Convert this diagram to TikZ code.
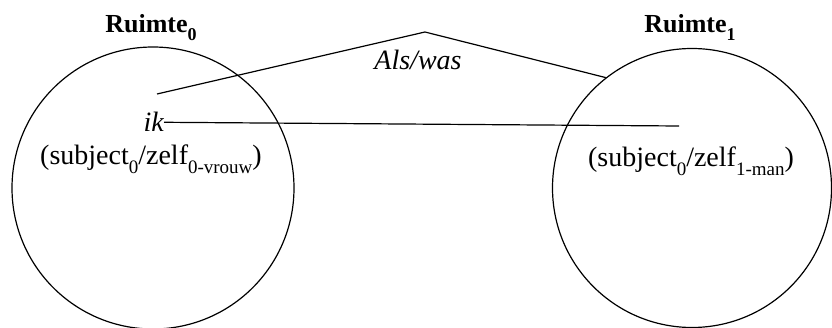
\documentclass[tikz,border=0pt]{standalone}
\usepackage{fontspec}
\setmainfont{Liberation Serif}
\newcommand{\mysub}[1]{\raisebox{-0.3em}{\fontsize{19}{22}\selectfont #1}}
\newcommand{\mylsub}[1]{\raisebox{-0.3em}{\fontsize{18}{21}\selectfont #1}}
\begin{document}
\begin{tikzpicture}[x=1pt,y=-1pt,
  space/.style={circle,draw,line width=1.2pt,inner sep=0pt},
  lbl/.style={font=\fontsize{26}{30}\selectfont\bfseries,inner sep=0pt},
  txt/.style={font=\fontsize{28}{32}\selectfont,inner sep=0pt},
  conn/.style={line width=1.2pt}]
\useasboundingbox (0,0) rectangle (832,328);
\node[space,minimum size=282pt] (c0) at (153,188) {};
\node[space,minimum size=279pt] (c1) at (692,188) {};
\node[lbl,anchor=base] (r0) at (151,33) {Ruimte\mylsub{0}};
\node[lbl,anchor=base] (r1) at (690,33) {Ruimte\mylsub{1}};
\node[txt,anchor=base] (als) at (418,70) {\itshape Als/was};
\node[txt,anchor=base east] (ik) at (164,132) {\itshape ik};
\node[txt,anchor=base] (s0) at (151,165) {(subject\mysub{0}/zelf\mysub{0-vrouw})};
\node[txt,anchor=base] (s1) at (691,167) {(subject\mysub{0}/zelf\mysub{1-man})};
\coordinate (p0) at (157,94);
\coordinate (apex) at (425,32);
\coordinate (e1) at (679,126);
\draw[conn] (p0) -- (apex) -- (c1.128);
\draw[conn] (ik.east) -- (e1);
\end{tikzpicture}
\end{document}
